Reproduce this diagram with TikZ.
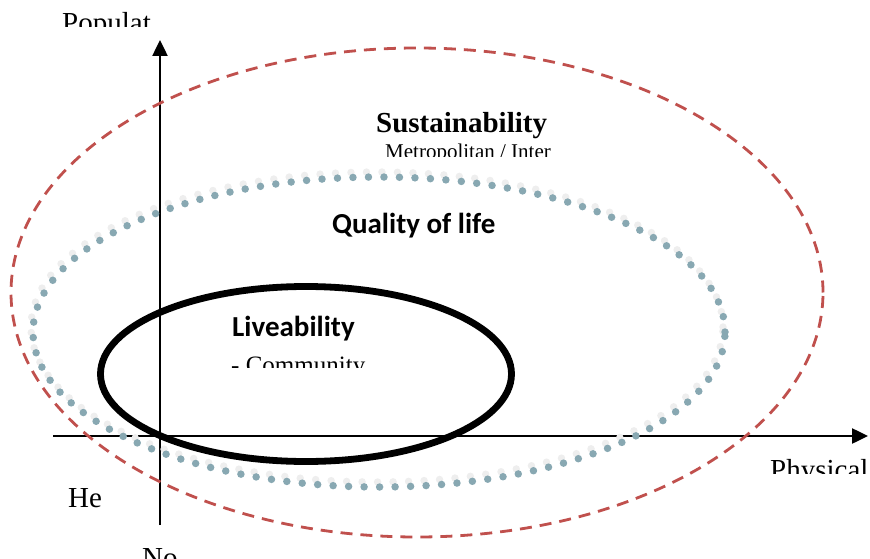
\documentclass[tikz,border=0pt]{standalone}
\usepackage{fontspec}
\setmainfont{Liberation Serif}
\newfontfamily\calib{Carlito}
\usetikzlibrary{arrows.meta}
\definecolor{redd}{HTML}{C0504D}
\definecolor{bluedot}{HTML}{88A8B2}
\definecolor{lightdot}{HTML}{EEEEEE}
\tikzset{
  axis/.style={line width=2.5pt, -{Triangle[length=16pt,width=15pt]}},
  serif/.style={inner sep=0pt, anchor=base west, font=\fontsize{29}{34}\selectfont},
  sansb/.style={inner sep=0pt, anchor=base west, font=\calib\bfseries\fontsize{29}{34}\selectfont},
  dots/.style={line width=7.5pt, dash pattern=on 0pt off 15.5pt, line cap=round}
}
\begin{document}
\begin{tikzpicture}[x=1pt,y=-1pt]
\useasboundingbox (0,0) rectangle (870,559);
% axes
\draw[axis] (160,525) coordinate (vb) -- (160,40) coordinate (vt);
\draw[axis] (53,436) coordinate (hl) -- (868,436) coordinate (hr);
% red dashed ellipse
\draw[redd, line width=2.8pt, dash pattern=on 12pt off 8pt] (417,292.5) ellipse [x radius=406pt, y radius=244.5pt];
% dotted ellipse with shadow
\draw[dots, draw=lightdot] (377,327) ellipse [x radius=346pt, y radius=155pt];
\draw[dots, draw=bluedot] (379,332) ellipse [x radius=346pt, y radius=155pt];
% black ellipse
\draw[line width=6.8pt] (306,374) ellipse [x radius=205.5pt, y radius=87.5pt];
% labels
\begin{scope}
\clip (0,0) rectangle (870,27);
\node[serif] (pop) at (62,33) {Populat};
\end{scope}
\begin{scope}
\clip (700,440) rectangle (870,473);
\node[serif] (phy) at (770,479) {Physical};
\end{scope}
\node[serif] (he) at (68,507) {He};
\begin{scope}
\clip (100,530) rectangle (200,559);
\node[serif] (no) at (142,567) {No};
\end{scope}
\node[serif, font=\bfseries\fontsize{29}{34}\selectfont] (sus) at (376,132.5) {Sustainability};
\begin{scope}
\clip (370,140) rectangle (570,156.5);
\node[serif, font=\fontsize{21}{25}\selectfont] (met) at (385,159) {Metropolitan / Inter};
\end{scope}
\node[sansb] (qol) at (332,233) {Quality of life};
\node[sansb] (liv) at (232,336) {Liveability};
\begin{scope}
\clip (220,345) rectangle (400,367.5);
\node[serif, font=\fontsize{25}{30}\selectfont] (com) at (231,373.5) {- Community};
\end{scope}
\end{tikzpicture}
\end{document}
